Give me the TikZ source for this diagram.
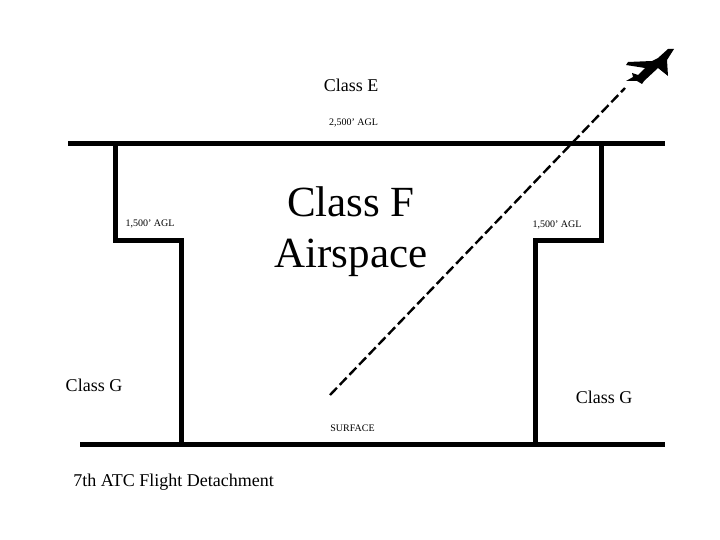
\documentclass[tikz,border=0pt]{standalone}
\usepackage{fontspec}
\setmainfont{Liberation Serif}
\tikzset{
  wall/.style={line width=5pt,line cap=rect},
  small/.style={font=\fontsize{10}{12}\selectfont},
  medium/.style={font=\fontsize{18}{20}\selectfont},
}
\begin{document}
\begin{tikzpicture}[x=1pt,y=-1pt]
  \useasboundingbox (0,0) rectangle (720,540);
  % airspace boundaries
  \draw[wall] (70,144) -- (662,144);
  \draw[wall] (82,444) -- (662,444);
  \draw[wall] (115,144) -- (115,240) -- (181,240) -- (181,444);
  \draw[wall] (601,144) -- (601,240) -- (535,240) -- (535,444);
  % flight path
  \coordinate (ground) at (330,395);
  \coordinate (climb) at (625,88);
  \draw[line width=2.4pt,dash pattern=on 10pt off 4pt] (ground) -- (climb);
  % aircraft
  \fill (674,49) -- (667,60) -- (668,76) -- (658,68) -- (644,81) -- (642,84)
    -- (637,81) -- (626,81) -- (633,77) -- (632,73) -- (638,75) -- (645,68)
    -- (626,65) -- (628,62) -- (652,61) -- (658,58) -- (668,49) -- cycle;
  % labels
  \node[medium] (classE) at (351,85) {Class E};
  \node[small] (ceiling) at (353.5,123) {2,500’ AGL};
  \node[small] (shelfL) at (150,224) {1,500’ AGL};
  \node[small] (shelfR) at (557,225) {1,500’ AGL};
  \node[align=center,font=\fontsize{43}{51}\selectfont] (classF) at (351,231.5) {Class F\\Airspace};
  \node[medium] (classGL) at (94,385) {Class G};
  \node[medium] (classGR) at (604,397) {Class G};
  \node[small] (surface) at (352.5,428) {SURFACE};
  \node[medium] (unit) at (173.5,482) {7th ATC Flight Detachment};
\end{tikzpicture}
\end{document}
